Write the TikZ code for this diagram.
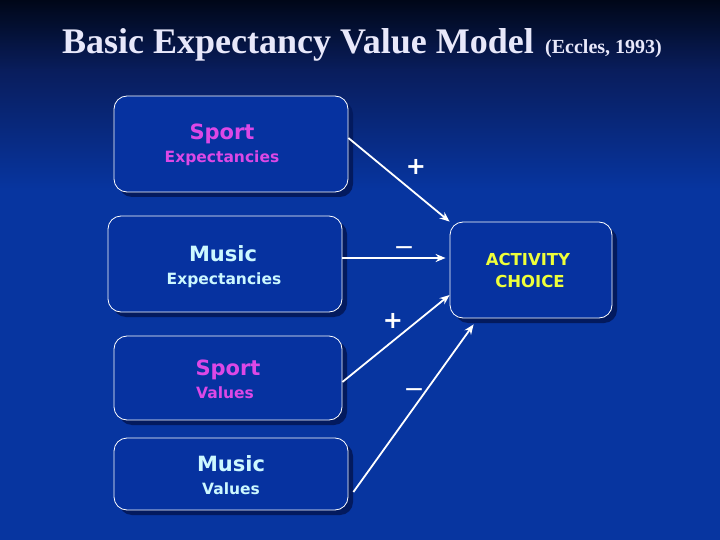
\documentclass[tikz,border=0pt]{standalone}
\usepackage{fontspec}
\setmainfont{Liberation Serif}
\newfontfamily\boxfont{DejaVu Sans}
\usetikzlibrary{shadows,arrows.meta,calc}
\definecolor{bgtop}{HTML}{000718}
\definecolor{bgmid}{HTML}{091D5C}
\definecolor{bgbot}{HTML}{0735A0}
\definecolor{boxfill}{HTML}{0632A0}
\definecolor{shadowc}{HTML}{031A5E}
\definecolor{magtext}{HTML}{DC48E6}
\definecolor{cyantext}{HTML}{CCF8FF}
\definecolor{yeltext}{HTML}{EEFF3A}
\definecolor{titlec}{HTML}{E8E8FA}
\begin{document}
\begin{tikzpicture}[x=1pt,y=-1pt,
  box/.style={draw=white,line width=0.8pt,fill=boxfill,rounded corners=13pt,
    minimum width=#1,inner sep=0pt,
    drop shadow={shadow xshift=5pt,shadow yshift=-5pt,fill=shadowc,opacity=1}},
  lbl/.style={inner sep=0pt,text depth=0pt},
  big/.style={lbl,text height=15.3pt,font=\boxfont\bfseries\fontsize{21}{21}\selectfont},
  small/.style={lbl,text height=11.3pt,font=\boxfont\bfseries\fontsize{15.5}{15.5}\selectfont},
  ac/.style={lbl,text height=12pt,text=yeltext,font=\boxfont\bfseries\fontsize{16.5}{16.5}\selectfont},
  sign/.style={inner sep=0pt,text=white,font=\boxfont\bfseries\fontsize{24}{24}\selectfont},
  minus/.style={inner sep=0pt,text=white,font=\boxfont\fontsize{25}{25}\selectfont},
  arr/.style={draw=white,line width=1.8pt,-{Stealth[length=10pt,width=8pt]}}]
\useasboundingbox (0,0) rectangle (720,540);
\fill[bgbot] (0,0) rectangle (720,540);
\shade[top color=bgtop,bottom color=bgmid] (0,0) rectangle (720,70);
\shade[top color=bgmid,bottom color=bgbot] (0,69.5) rectangle (720,190);
% title
\node[anchor=base west,inner sep=0pt,text=titlec,font=\bfseries\fontsize{36}{36}\selectfont] (title) at (62,54) {Basic Expectancy Value Model};
\node[anchor=base west,inner sep=0pt,text=titlec,font=\bfseries\fontsize{20}{20}\selectfont] (cite) at (545,54) {(Eccles, 1993)};
% boxes
\node[box=234pt,minimum height=96pt] (b1) at (231,144) {};
\node[box=234pt,minimum height=96pt] (b2) at (225,264) {};
\node[box=228pt,minimum height=84pt] (b3) at (228,378) {};
\node[box=234pt,minimum height=72pt] (b4) at (231,474) {};
\node[box=162pt,minimum height=96pt] (ac) at (531,270) {};
% texts
\node[big,text=magtext] (t1a) at (222,132) {Sport};
\node[small,text=magtext] (t1b) at (222,157) {Expectancies};
\node[big,text=cyantext] (t2a) at (223,254) {Music};
\node[small,text=cyantext] (t2b) at (224,279) {Expectancies};
\node[big,text=magtext] (t3a) at (228,368) {Sport};
\node[small,text=magtext] (t3b) at (225,393) {Values};
\node[big,text=cyantext] (t4a) at (231,464) {Music};
\node[small,text=cyantext] (t4b) at (231,489) {Values};
\node[ac] (ac1) at (528,259) {ACTIVITY};
\node[ac] (ac2) at (530,281) {CHOICE};
% arrows
\draw[arr] ([yshift=6pt]b1.east) -- (ac.north west);
\draw[arr] ([yshift=6pt]b2.east) -- ([xshift=-4pt,yshift=12pt]ac.west);
\draw[arr] ([yshift=-4pt]b3.east) -- ([yshift=-25pt]ac.west);
\draw[arr] ([xshift=5pt,yshift=-18pt]b4.east) -- ([xshift=24pt,yshift=-6pt]ac.south west);
% signs
\node[sign] (s1) at (416,167) {+};
\node[minus] (s2) at (404,251) {−};
\node[sign] (s3) at (393,321) {+};
\node[minus] (s4) at (414,393) {−};
\end{tikzpicture}
\end{document}
